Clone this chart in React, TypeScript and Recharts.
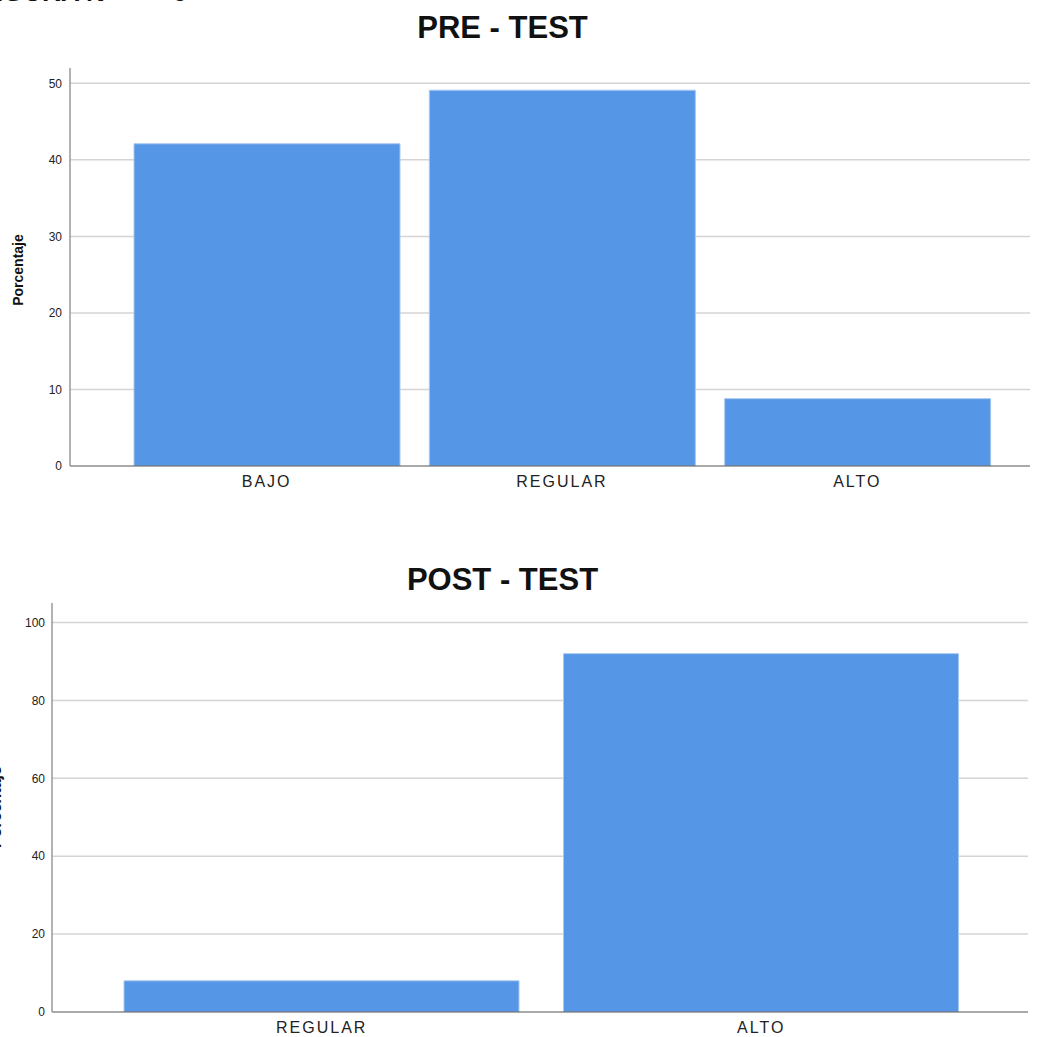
import React from "react";
import { BarChart, Bar, XAxis, YAxis, CartesianGrid } from "recharts";

const preCategories = ["BAJO", "REGULAR", "ALTO"];
const preValues = [42.1, 49.1, 8.8];
const preTicks = [0, 10, 20, 30, 40, 50];
const preMax = 52;

const postCategories = ["REGULAR", "ALTO"];
const postValues = [8.0, 92.0];
const postTicks = [0, 20, 40, 60, 80, 100];
const postMax = 105;

const preData = preCategories.map((c, i) => ({ name: c, value: preValues[i] }));
const postData = postCategories.map((c, i) => ({ name: c, value: postValues[i] }));

const FONT = "'Liberation Sans', Arial, Helvetica, sans-serif";
const BAR = "#5596e6";

const xTick = { fontSize: 16, fill: "#222", fontFamily: FONT, letterSpacing: 2 } as any;
const yTick = { fontSize: 12, fill: "#222", fontFamily: FONT } as any;

const gridGen = (ticks: number[], max: number) => (props: any) => {
  const ya = props && props.yAxis;
  if (ya && typeof ya.scale === "function") {
    return ticks.filter((t) => t > 0).map((t) => ya.scale(t));
  }
  const o = props.offset;
  return ticks.filter((t) => t > 0).map((t) => o.top + o.height * (1 - t / max));
};

export default function App() {
  return (
    <div
      style={{
        position: "absolute",
        left: 0,
        top: 0,
        width: 1043,
        height: 1037,
        overflow: "hidden",
        background: "#fff",
        fontFamily: FONT,
      }}
    >
      <div
        style={{
          position: "absolute",
          left: -20,
          top: -21,
          fontSize: 26,
          lineHeight: 1,
          fontWeight: "bold",
          color: "#111",
          whiteSpace: "nowrap",
        }}
      >
        FIGURA N°
      </div>
      <div
        style={{
          position: "absolute",
          left: 172,
          top: -21,
          fontSize: 26,
          lineHeight: 1,
          fontWeight: "bold",
          color: "#111",
          whiteSpace: "nowrap",
        }}
      >
        6
      </div>
      <div
        style={{
          position: "absolute",
          left: 0,
          width: 1005,
          top: 10,
          textAlign: "center",
          fontSize: 31,
          fontWeight: "bold",
          color: "#111",
        }}
      >
        PRE - TEST
      </div>
      <div
        style={{
          position: "absolute",
          left: 0,
          width: 1005,
          top: 562,
          textAlign: "center",
          fontSize: 31,
          fontWeight: "bold",
          color: "#111",
        }}
      >
        POST - TEST
      </div>
      <div
        style={{
          position: "absolute",
          left: 18,
          top: 270,
          transform: "translate(-50%, -50%) rotate(-90deg)",
          fontSize: 14,
          fontWeight: "bold",
          color: "#111",
          whiteSpace: "nowrap",
        }}
      >
        Porcentaje
      </div>
      <div
        style={{
          position: "absolute",
          left: -4,
          top: 807,
          transform: "translate(-50%, -50%) rotate(-90deg)",
          fontSize: 16,
          fontWeight: "bold",
          color: "#111",
          whiteSpace: "nowrap",
        }}
      >
        Porcentaje
      </div>

      <div style={{ position: "absolute", left: 0, top: 0 }}>
        <BarChart
          width={1043}
          height={500}
          data={preData}
          margin={{ top: 68, right: 13, bottom: 4, left: 10 }}
        >
          <CartesianGrid
            vertical={false}
            stroke="#d4d4d4"
            strokeWidth={1.5}
            horizontalCoordinatesGenerator={gridGen(preTicks, preMax)}
          />
          <XAxis
            dataKey="name"
            height={30}
            padding={{ left: 49, right: 25 }}
            tickLine={false}
            tickSize={0}
            tickMargin={10}
            axisLine={{ stroke: "#555", strokeWidth: 1.2 }}
            tick={xTick}
          />
          <YAxis
            width={60}
            domain={[0, preMax]}
            ticks={preTicks}
            allowDataOverflow
            tickLine={false}
            tickSize={0}
            tickMargin={8}
            axisLine={{ stroke: "#999", strokeWidth: 1.5 }}
            tick={yTick}
          />
          <Bar
            dataKey="value"
            fill={BAR}
            stroke="#a8c8f0"
            strokeWidth={1}
            barSize={266}
            isAnimationActive={false}
          />
        </BarChart>
      </div>

      <div style={{ position: "absolute", left: 0, top: 540 }}>
        <BarChart
          width={1043}
          height={497}
          data={postData}
          margin={{ top: 63, right: 15, bottom: 3, left: 2 }}
        >
          <CartesianGrid
            vertical={false}
            stroke="#d4d4d4"
            strokeWidth={1.5}
            horizontalCoordinatesGenerator={gridGen(postTicks, postMax)}
          />
          <XAxis
            dataKey="name"
            height={22}
            padding={{ left: 50, right: 47 }}
            tickLine={false}
            tickSize={0}
            tickMargin={10}
            axisLine={{ stroke: "#555", strokeWidth: 1.2 }}
            tick={xTick}
          />
          <YAxis
            width={50}
            domain={[0, postMax]}
            ticks={postTicks}
            allowDataOverflow
            tickLine={false}
            tickSize={0}
            tickMargin={7}
            axisLine={{ stroke: "#999", strokeWidth: 1.5 }}
            tick={yTick}
          />
          <Bar
            dataKey="value"
            fill={BAR}
            stroke="#a8c8f0"
            strokeWidth={1}
            barSize={395}
            isAnimationActive={false}
          />
        </BarChart>
      </div>
    </div>
  );
}
